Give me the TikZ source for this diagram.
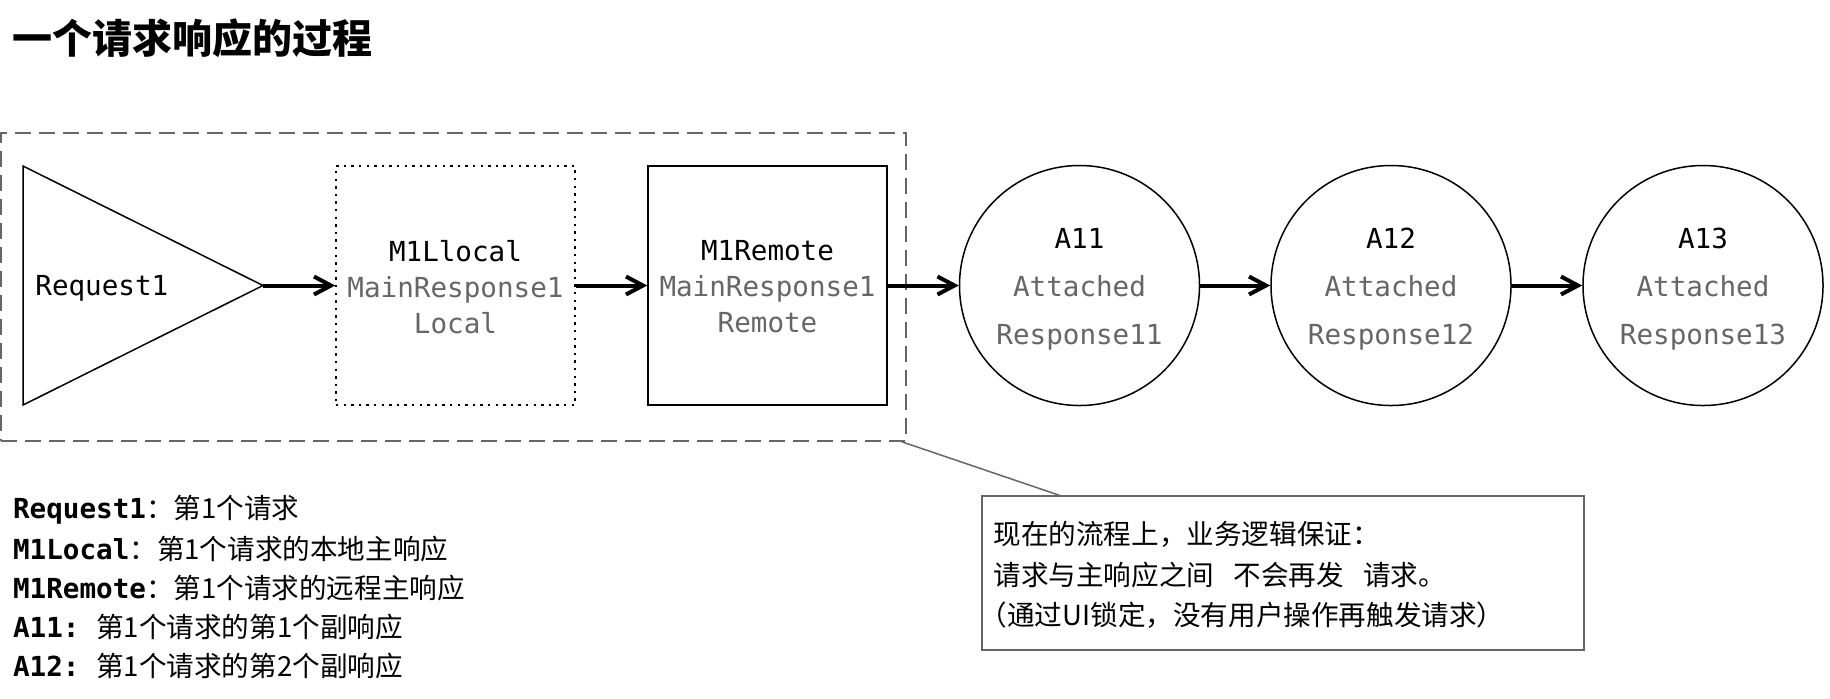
\documentclass[tikz,border=0pt]{standalone}
\usepackage{fontspec}
\setmainfont{Noto Sans CJK SC}
\setmonofont{DejaVu Sans Mono}
\usetikzlibrary{arrows.meta,calc}
\definecolor{txtgray}{HTML}{666666}
\definecolor{lngray}{HTML}{666666}
\begin{document}
\begin{tikzpicture}[x=0.5pt,y=-0.5pt,
  flow/.style={line width=2pt,-{Straight Barb[length=8.5pt,width=9pt,line width=2pt]}},
  boxnode/.style={line width=0.75pt,minimum width=119.5pt,minimum height=119.5pt,inner sep=0pt,align=center,
    font=\fontsize{13.8}{18}\selectfont\ttfamily},
  circnode/.style={draw=black,circle,line width=0.75pt,minimum size=120pt,inner sep=0pt},
  circtext/.style={inner sep=0pt,align=center,font=\fontsize{13.8}{24}\selectfont\ttfamily},
  legend/.style={anchor=west,inner sep=0pt,font=\fontsize{13.8}{18}\selectfont},
]
\useasboundingbox (0,0) rectangle (1830,698);

% title
\node[anchor=west,inner sep=0pt,font=\fontsize{20}{24}\selectfont\bfseries] (title) at (12,38.5) {一个请求响应的过程};

% dashed group
\node[draw=lngray,line width=0.75pt,dash pattern=on 8pt off 4pt,minimum width=452.5pt,minimum height=154pt,inner sep=0pt] (group) at (453.5,287) {};

% triangle
\coordinate (ttop) at (23,166);
\coordinate (tbot) at (23,405);
\coordinate (tip) at (263,285.5);
\draw[line width=0.75pt,fill=white] (ttop) -- (tip) -- (tbot) -- cycle;
\node[anchor=west,inner sep=0pt,font=\fontsize{13.8}{18}\selectfont\ttfamily] (req) at (35,288) {Request1};

% boxes
\node[boxnode,draw=black,dash pattern=on 1.2pt off 2.6pt] (m1l) at (455.5,285.5) {};
\node[boxnode] (m1lt) at (455.5,287)
  {M1Llocal\\\textcolor{txtgray}{MainResponse1}\\\textcolor{txtgray}{Local}};
\node[boxnode,draw=black] (m1r) at (767.5,285.5) {};
\node[boxnode] (m1rt) at (767.5,287)
  {M1Remote\\\textcolor{txtgray}{MainResponse1}\\\textcolor{txtgray}{Remote}};

% circles
\node[circnode] (a11) at (1079.5,285.5) {};
\node[circtext] (a11t) at ($(a11)+(0,4)$) {A11\\\textcolor{txtgray}{Attached}\\\textcolor{txtgray}{Response11}};
\node[circnode] (a12) at (1391,285.5) {};
\node[circtext] (a12t) at ($(a12)+(0,4)$) {A12\\\textcolor{txtgray}{Attached}\\\textcolor{txtgray}{Response12}};
\node[circnode] (a13) at (1703,285.5) {};
\node[circtext] (a13t) at ($(a13)+(0,4)$) {A13\\\textcolor{txtgray}{Attached}\\\textcolor{txtgray}{Response13}};

% arrows
\draw[flow] (tip) -- (m1l.west);
\draw[flow] (m1l.east) -- (m1r.west);
\draw[flow] (m1r.east) -- (a11.west);
\draw[flow] (a11.east) -- (a12.west);
\draw[flow] (a12.east) -- (a13.west);

% legend
\node[legend] (l1) at (12.7,510) {{\ttfamily\bfseries Request1}：第1个请求};
\node[legend] (l2) at (12.7,549.1) {{\ttfamily\bfseries M1Local}：第1个请求的本地主响应};
\node[legend] (l3) at (12.7,588.2) {{\ttfamily\bfseries M1Remote}：第1个请求的远程主响应};
\node[legend] (l4) at (12.7,627.3) {{\ttfamily\bfseries A11: }第1个请求的第1个副响应};
\node[legend] (l5) at (12.7,666.4) {{\ttfamily\bfseries A12: }第1个请求的第2个副响应};

% note
\node[draw=lngray,line width=0.75pt,minimum width=301pt,minimum height=77pt,inner sep=0pt] (note) at (1283,573) {};
\node[anchor=west,inner sep=0pt,text width=290pt,align=left,font=\fontsize{13.8}{20.3}\selectfont] (notetext) at (993,575)
  {现在的流程上，业务逻辑保证：\\请求与主响应之间\hspace{0.7em}不会再发\hspace{0.7em}请求。\\\hspace*{-0.5em}（通过UI锁定，没有用户操作再触发请求）};
\draw[lngray,line width=0.75pt] ($(group.south east)+(-5,0)$) -- ($(note.north west)+(78,0)$);
\end{tikzpicture}
\end{document}
